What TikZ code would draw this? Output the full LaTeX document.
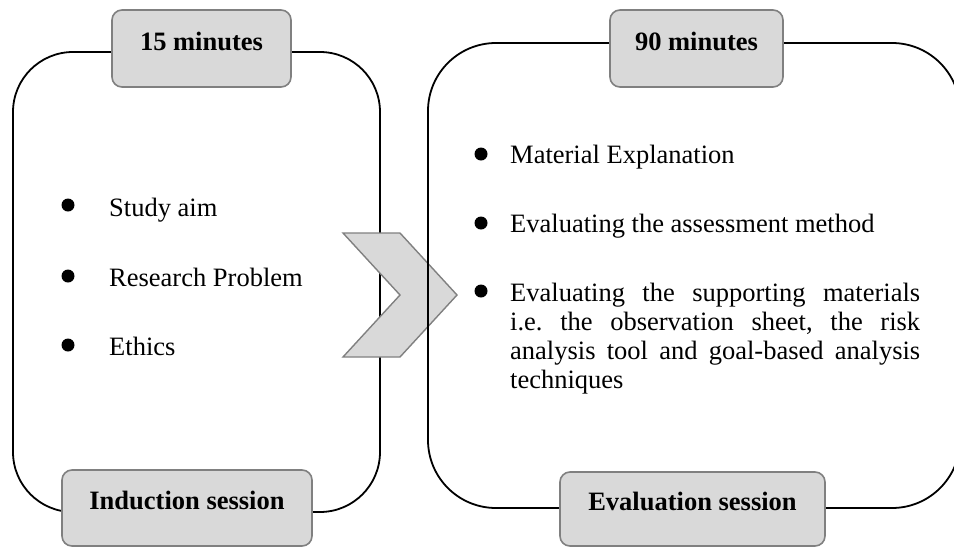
\documentclass[tikz,border=0pt]{standalone}
\usepackage{fontspec}
\setmainfont{Liberation Serif}
\definecolor{tagfill}{HTML}{D9D9D9}
\definecolor{tagline}{HTML}{808080}
\begin{document}
\begin{tikzpicture}[x=1pt,y=-1pt,
  every node/.style={font=\fontsize{26.5}{29}\selectfont},
  session/.style={draw=black, line width=1.8pt, inner sep=0pt},
  tagbox/.style={draw=tagline, fill=tagfill, line width=1.6pt, rounded corners=10pt,
    font=\fontsize{26.5}{29}\selectfont\bfseries, text height=10pt, text depth=6.5pt, inner sep=0pt},
  chev/.style={draw=tagline, fill=tagfill, line width=1.4pt, line join=miter},
  dot/.style={circle, fill=black, inner sep=0pt, minimum size=13pt},
  item/.style={anchor=base west, inner sep=0pt}
]
\useasboundingbox (0,0) rectangle (954,547);

% session frames
\node[session, rounded corners=60pt, minimum width=367pt, minimum height=460pt] (induct) at (196.5,282) {};

% arrow between the two sessions
\draw[chev] (343,233) coordinate (c1) -- (400,233) -- (457,295) coordinate (tip)
  -- (400,357) -- (343,357) -- (400,295) -- cycle;

\node[session, rounded corners=68pt, minimum width=532pt, minimum height=465pt] (evalu) at (694,275.5) {};

% duration and session tags
\node[tagbox, minimum width=179pt, minimum height=77pt] (d15) at (201.5,48.5) {15 minutes};
\node[tagbox, minimum width=173pt, minimum height=77pt] (d90) at (696.5,48.5) {90 minutes};
\node[tagbox, minimum width=250pt, minimum height=76pt] (sind) at (187,508) {Induction session};
\node[tagbox, minimum width=265pt, minimum height=74pt] (seva) at (692.5,509) {Evaluation session};

% induction topics
\node[dot] (la) at (68,205) {};
\node[item] (ta) at (109,216) {Study aim};
\node[dot] (lb) at (68,276) {};
\node[item] (tb) at (109,286) {Research Problem};
\node[dot] (lc) at (68,345) {};
\node[item] (tc) at (109,355) {Ethics};

% evaluation topics
\node[dot] (ra) at (481,154) {};
\node[item] (ua) at (510,163) {Material Explanation};
\node[dot] (rb) at (481,223) {};
\node[item] (ub) at (510,232) {Evaluating the assessment method};
\node[dot] (rc) at (481,291) {};
\node[item, text width=410pt, align=justify] (uc) at (510,301)
  {\frenchspacing Evaluating the supporting materials\linebreak
   i.e. the observation sheet, the risk\linebreak
   analysis tool and goal-based analysis\linebreak
   techniques};
\end{tikzpicture}
\end{document}
